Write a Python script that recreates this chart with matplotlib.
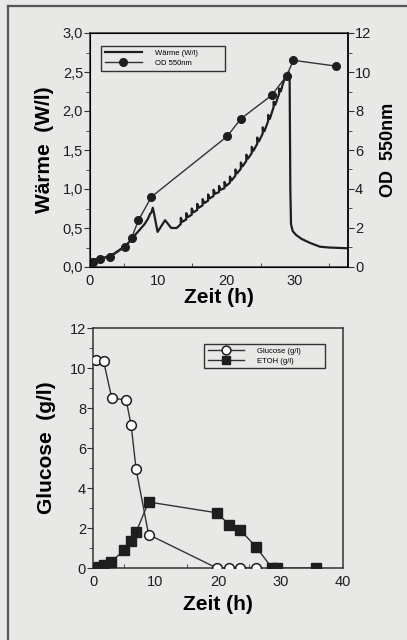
import matplotlib
matplotlib.use("Agg")
import matplotlib.pyplot as plt
from matplotlib.ticker import MultipleLocator
from matplotlib.lines import Line2D

plt.rcParams["font.family"] = ["Liberation Sans", "DejaVu Sans"]

# --- top panel: heat output and optical density ---
# heat curve before the feed teeth start
heat_pre_t = [0, 0.2, 0.5, 1, 1.5, 2, 2.5, 3, 3.5, 4, 4.5, 5, 5.5, 6, 6.5, 7, 7.5, 8,
              8.5, 8.8, 9.0, 9.2, 9.35, 9.9, 11.0, 11.9, 12.7]
heat_pre_w = [0.05, 0.1, 0.1, 0.1, 0.12, 0.12, 0.13, 0.15, 0.17, 0.2, 0.23, 0.26, 0.3,
              0.34, 0.4, 0.45, 0.5, 0.55, 0.62, 0.68, 0.7, 0.76, 0.7, 0.45, 0.6, 0.5, 0.5]
# small sawtooth spikes (feed pulses)
tooth_t = [13.3, 14.1, 14.9, 15.7, 16.5, 17.3, 18.1, 18.9, 19.7, 20.5, 21.3, 22.1,
           22.9, 23.7, 24.5, 25.3, 26.1, 26.9, 27.7]
tooth_base = [0.55, 0.61, 0.67, 0.73, 0.79, 0.85, 0.91, 0.96, 1.01, 1.08, 1.17, 1.26,
              1.36, 1.46, 1.58, 1.71, 1.87, 2.05, 2.22]
tooth_peak = [0.63, 0.69, 0.75, 0.81, 0.87, 0.93, 0.99, 1.04, 1.09, 1.16, 1.25, 1.34,
              1.44, 1.54, 1.66, 1.79, 1.95, 2.12, 2.29]
# peak, crash and tail
heat_post_t = [28.3, 28.7, 29.1, 29.25, 29.35, 29.45, 29.7, 30.2, 31.0, 32.2, 33.7, 35.0, 37.8]
heat_post_w = [2.36, 2.45, 2.5, 2.4, 1.0, 0.55, 0.46, 0.41, 0.36, 0.31, 0.26, 0.25, 0.24]

od_t = [0.5, 1.5, 2.9, 5.1, 6.1, 7.1, 9.0, 20.1, 22.1, 26.6, 28.8, 29.8, 36.1]
od_v = [0.26, 0.43, 0.5, 1.0, 1.5, 2.4, 3.6, 6.7, 7.6, 8.8, 9.8, 10.6, 10.3]

# --- bottom panel: glucose and ethanol ---
glc_t = [0.5, 1.7, 3.0, 5.3, 6.1, 6.9, 8.9, 19.8, 21.8, 23.5, 26.1]
glc_v = [10.38, 10.33, 8.5, 8.4, 7.15, 4.93, 1.67, 0, 0, 0, 0]
etoh_t = [0.3, 0.9, 1.7, 2.9, 5.0, 6.0, 6.9, 8.9, 19.8, 21.8, 23.5, 26.1, 28.6, 29.4, 35.6]
etoh_v = [0.02, 0.05, 0.13, 0.3, 0.9, 1.35, 1.8, 3.3, 2.76, 2.17, 1.92, 1.05, 0.02, 0.0, 0.0]

top_yticks = [0, 0.5, 1.0, 1.5, 2.0, 2.5, 3.0]
top_ylabels = ["0,0", "0,5", "1,0", "1,5", "2,0", "2,5", "3,0"]

# assemble the heat trace
heat_t = list(heat_pre_t)
heat_w = list(heat_pre_w)
for t, b, p in zip(tooth_t, tooth_base, tooth_peak):
    heat_t += [t, t, t + 0.25]
    heat_w += [b, p, b + 0.03]
heat_t += heat_post_t
heat_w += heat_post_w

bg = "#e8e8e6"
ink = "#1e1e1e"
fig = plt.figure(figsize=(4.07, 6.4), dpi=100, facecolor=bg)

# page frame (top and left only, like the scan)
fig.add_artist(Line2D([8 / 407, 8 / 407], [0, 1 - 6 / 640], transform=fig.transFigure,
                      color="#555555", lw=1.6))
fig.add_artist(Line2D([8 / 407, 1], [1 - 6 / 640, 1 - 6 / 640], transform=fig.transFigure,
                      color="#555555", lw=1.6))


def style_axis(ax):
    ax.set_facecolor(bg)
    for s in ax.spines.values():
        s.set_color("#333333")
        s.set_linewidth(1.1)
    ax.tick_params(axis="x", which="both", direction="in", colors="#333333",
                   labelcolor=ink, labelsize=10.5)
    ax.tick_params(axis="x", which="major", length=0, pad=5)
    ax.tick_params(axis="x", which="minor", length=3)
    ax.tick_params(axis="y", which="both", direction="out", colors="#333333",
                   labelcolor=ink, labelsize=10.5)
    ax.tick_params(axis="y", which="major", length=4, pad=1)
    ax.tick_params(axis="y", which="minor", length=3)


# top
ax1 = fig.add_axes([90 / 407, 1 - 267 / 640, 258 / 407, 234 / 640])
style_axis(ax1)
ax1.plot(heat_t, heat_w, color=ink, lw=1.6, label="Wärme (W/l)")
ax1.set_xlim(0, 37.8)
ax1.set_ylim(0, 3.0)
ax1.set_xticks([0, 10, 20, 30])
ax1.xaxis.set_minor_locator(MultipleLocator(5))
ax1.set_yticks(top_yticks)
ax1.set_yticklabels(top_ylabels)
ax1.yaxis.set_minor_locator(MultipleLocator(0.25))
ax1.set_xlabel("Zeit (h)", fontsize=15, fontweight="bold", labelpad=0)
ax1.set_ylabel("Wärme  (W/l)", fontsize=15, fontweight="bold", labelpad=6)

ax2 = ax1.twinx()
ax2.plot(od_t, od_v, color="#333333", lw=1.0, marker="o", ms=5.5,
         mfc=ink, mec=ink, label="OD 550nm")
ax2.set_ylim(0, 12)
ax2.set_yticks([0, 2, 4, 6, 8, 10, 12])
ax2.yaxis.set_minor_locator(MultipleLocator(1))
ax2.tick_params(axis="y", which="both", direction="out", colors="#333333",
                labelcolor=ink, labelsize=10.5)
ax2.tick_params(axis="y", which="major", length=4, pad=1)
ax2.tick_params(axis="y", which="minor", length=3)
ax2.spines["right"].set_linewidth(1.1)
ax2.set_ylabel("OD  550nm", fontsize=13, fontweight="bold", labelpad=6)

h1, l1 = ax1.get_legend_handles_labels()
h2, l2 = ax2.get_legend_handles_labels()
leg1 = ax2.legend(h1 + h2, l1 + l2, loc="upper left", mode="expand",
                  bbox_to_anchor=(0.027, 0.829, 0.512, 0.133), fontsize=5.5,
                  handlelength=4.9, handletextpad=1.7, borderpad=0.5,
                  labelspacing=0.35, fancybox=False, framealpha=1)
leg1.get_frame().set_edgecolor("#333333")
leg1.get_frame().set_facecolor(bg)
leg1.get_frame().set_linewidth(1.0)

# bottom
ax3 = fig.add_axes([93 / 407, 1 - 568 / 640, 250 / 407, 240 / 640])
style_axis(ax3)
ax3.plot(glc_t, glc_v, color="#333333", lw=1.0, marker="o", ms=7,
         mfc="white", mec=ink, mew=1.1, label="Glucose (g/l)", zorder=3)
ax3.plot(etoh_t, etoh_v, color="#333333", lw=1.0, marker="s", ms=7,
         mfc=ink, mec=ink, label="ETOH (g/l)", zorder=3)
ax3.set_xlim(0, 40)
ax3.set_ylim(0, 12)
ax3.set_xticks([0, 10, 20, 30, 40])
ax3.xaxis.set_minor_locator(MultipleLocator(5))
ax3.set_yticks([0, 2, 4, 6, 8, 10, 12])
ax3.yaxis.set_minor_locator(MultipleLocator(1))
ax3.set_xlabel("Zeit (h)", fontsize=15, fontweight="bold", labelpad=4)
ax3.set_ylabel("Glucose  (g/l)", fontsize=15, fontweight="bold", labelpad=10)
leg2 = ax3.legend(loc="upper left", mode="expand",
                  bbox_to_anchor=(0.428, 0.825, 0.516, 0.125), fontsize=5.5,
                  handlelength=4.7, handletextpad=1.8, borderpad=0.5,
                  labelspacing=0.3, fancybox=False, framealpha=1, markerscale=0.9)
leg2.get_frame().set_edgecolor("#333333")
leg2.get_frame().set_facecolor(bg)
leg2.get_frame().set_linewidth(1.0)

fig.savefig("out.png", dpi=100, facecolor=bg)
